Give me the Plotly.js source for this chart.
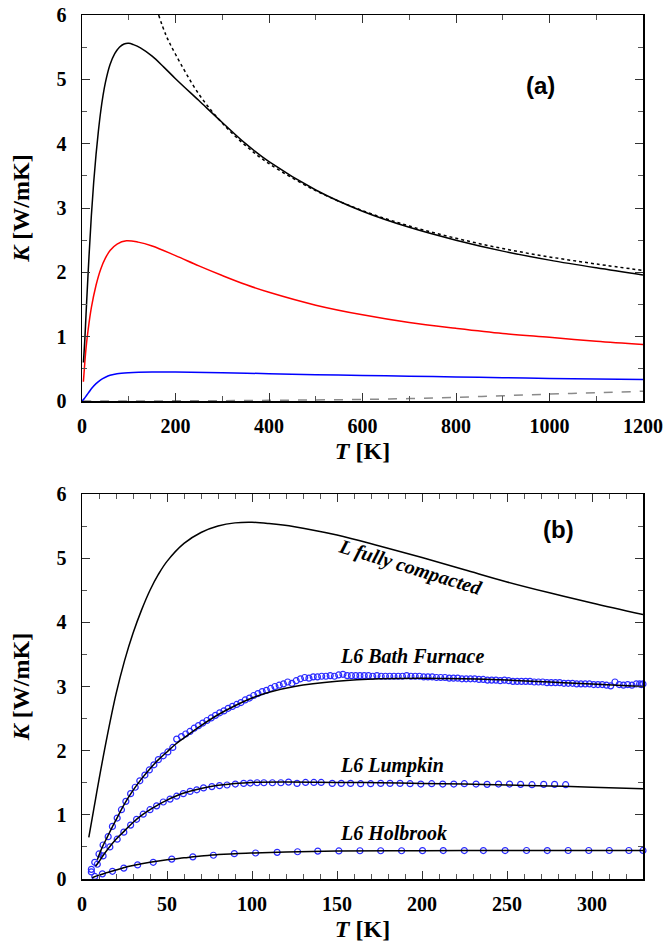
<!DOCTYPE html>
<html><head><meta charset="utf-8">
<script src="https://cdn.plot.ly/plotly-3.0.1.min.js"></script>
<style>html,body{margin:0;padding:0;background:#fff}</style>
</head><body><div id="chart" style="width:670px;height:946px"></div>
<script>
// ---------- Tick labels ----------
const xTicksA = [0,200,400,600,800,1000,1200];
const xTicksB = [0,50,100,150,200,250,300];
const yTicks = [0,1,2,3,4,5,6];

// ---------- Panel (a) ----------
const aBlackT = [3,6,8,10,15,20,25,30,35,40,45,50,60,70,80,90,100,110,125,150,175,200,250,300,350,400,500,600,700,800,900,1000,1100,1200];
const aBlackK = [0.6,0.95,1.25,1.55,2.25,2.88,3.4,3.83,4.19,4.5,4.75,4.95,5.23,5.4,5.5,5.55,5.56,5.54,5.49,5.36,5.19,5.01,4.67,4.33,4.0,3.72,3.28,2.95,2.70,2.50,2.33,2.19,2.07,1.96];
const aDotT = [164,180,200,250,300,350,400,500,600,700,800,900,1000,1100,1200];
const aDotK = [6.0,5.68,5.39,4.77,4.32,3.97,3.69,3.27,2.96,2.72,2.53,2.37,2.24,2.13,2.03];
const aRedT = [3,6,9,13,20,30,40,50,60,75,95,120,150,200,250,300,350,400,500,600,700,800,900,1000,1100,1200];
const aRedK = [0.3,0.6,0.85,1.1,1.45,1.8,2.05,2.22,2.34,2.44,2.49,2.47,2.41,2.26,2.1,1.95,1.81,1.69,1.49,1.34,1.22,1.13,1.05,0.99,0.93,0.88];
const aBlueT = [0,5,10,15,20,30,40,50,60,75,100,150,200,300,400,500,600,700,800,900,1000,1100,1200];
const aBlueK = [0,0.04,0.09,0.14,0.19,0.27,0.33,0.37,0.4,0.425,0.44,0.45,0.45,0.44,0.425,0.41,0.397,0.387,0.375,0.363,0.352,0.343,0.335];
const aGrayT = [0,100,200,300,400,500,600,700,800,900,1000,1100,1200];
const aGrayK = [0,0.001,0.003,0.006,0.011,0.017,0.025,0.038,0.058,0.082,0.108,0.13,0.152];

// ---------- Panel (b) ----------
const bFullT = [4,6,8,10,15,20,25,30,35,40,45,50,60,70,80,90,100,110,125,150,175,200,225,250,275,300,330];
const bFullK = [0.65,0.95,1.25,1.55,2.25,2.88,3.4,3.83,4.19,4.5,4.75,4.95,5.23,5.4,5.5,5.55,5.56,5.54,5.49,5.36,5.19,5.01,4.82,4.63,4.46,4.3,4.12];
const bBathLineT = [9,12,15,18,20,25,30,35,40,45,50,55,60,70,80,90,100,110,125,150,175,200,225,250,275,300,330];
const bBathLineK = [0.3,0.5,0.66,0.82,0.92,1.17,1.38,1.56,1.72,1.86,1.98,2.1,2.2,2.39,2.56,2.7,2.82,2.91,3.0,3.08,3.12,3.13,3.12,3.1,3.07,3.04,3.0];
const bLumpLineT = [8,10,12,15,20,25,30,35,40,45,50,55,60,70,80,90,100,120,150,175,200,225,250,275,300,330];
const bLumpLineK = [0.2,0.27,0.35,0.46,0.62,0.75,0.88,0.99,1.08,1.16,1.23,1.29,1.34,1.41,1.46,1.49,1.505,1.51,1.505,1.5,1.49,1.48,1.465,1.45,1.43,1.405];
const bHolbLineT = [6,10,15,20,25,30,40,50,60,70,80,90,100,120,150,200,250,300,330];
const bHolbLineK = [0.02,0.06,0.1,0.14,0.18,0.21,0.26,0.3,0.33,0.36,0.38,0.395,0.405,0.42,0.435,0.442,0.444,0.445,0.445];

const bathT = [5.5,5.5,7.5,10,12.4,15.4,17.9,20.7,23.2,25.8,28.6,31.3,34,37,39.6,42.3,44.9,47.8,50.5,53.4,55.7,58.5,61,63.5,66,68.5,71,73.5,76,78.5,81,83.5,86,88.5,91,93.5,96,98.5,101,103.5,106,108.5,111,113.5,116,118.5,121,123.5,126,128.5,131,133.5,136,138.5,141,143.5,146,148.5,151,153.5,156,158.5,161,163.5,166,168.5,171,173.5,176,178.5,181,183.5,186,188.5,191,193.5,196,198.5,201,203.5,206,208.5,211,213.5,216,218.5,221,223.5,226,228.5,231,233.5,236,238.5,241,243.5,246,248.5,251,253.5,256,258.5,261,263.5,266,268.5,271,273.5,276,278.5,281,283.5,286,288.5,291,293.5,296,298.5,301,303.5,306,308.5,311,313.5,316,318.5,321,323.5,326,328,329,330];
const bathK = [0.11,0.15,0.26,0.39,0.53,0.66,0.82,0.95,1.08,1.21,1.33,1.43,1.53,1.62,1.70,1.78,1.86,1.92,1.98,2.05,2.18,2.22,2.26,2.30,2.35,2.39,2.43,2.47,2.51,2.55,2.59,2.62,2.66,2.69,2.72,2.75,2.79,2.82,2.86,2.89,2.92,2.94,2.97,3.0,3.02,3.04,3.07,3.05,3.09,3.12,3.14,3.13,3.15,3.15,3.16,3.16,3.17,3.16,3.18,3.19,3.17,3.17,3.17,3.17,3.17,3.17,3.16,3.17,3.16,3.16,3.16,3.16,3.16,3.16,3.17,3.16,3.16,3.16,3.15,3.15,3.15,3.14,3.14,3.14,3.13,3.13,3.13,3.12,3.12,3.12,3.12,3.11,3.11,3.1,3.1,3.1,3.09,3.1,3.09,3.08,3.08,3.08,3.08,3.08,3.07,3.07,3.07,3.06,3.06,3.06,3.06,3.05,3.05,3.05,3.04,3.04,3.04,3.04,3.03,3.03,3.03,3.02,3.01,3.07,3.03,3.02,3.03,3.02,3.04,3.04,3.03,3.04];
const lumpT = [9,12.4,16.4,20.7,24.6,28.6,32.1,36,40,43.9,47.8,51.8,55.7,59.6,63.6,67.5,71.5,76.4,80.9,85.3,90.2,95.1,99,103,107,112,117,121.5,126.5,131.5,136.4,140.7,147.2,152.5,158,163.9,169.8,175.7,181.2,187.1,193,199.3,205.7,212.2,218.7,224.9,231.8,238.3,245,251.5,258,264.7,271.6,278,284.5];
const lumpK = [0.23,0.36,0.5,0.62,0.73,0.84,0.93,1.01,1.08,1.14,1.2,1.245,1.29,1.33,1.365,1.39,1.42,1.44,1.455,1.465,1.48,1.49,1.495,1.5,1.5,1.5,1.5,1.51,1.49,1.505,1.505,1.505,1.49,1.49,1.49,1.485,1.485,1.49,1.49,1.49,1.485,1.48,1.485,1.48,1.48,1.485,1.48,1.475,1.48,1.48,1.475,1.47,1.475,1.475,1.47];
const holbT = [7.5,12,17.9,24.6,32.7,41.9,52.8,65.2,77.3,89.6,102.1,114.8,126.8,138.7,151.1,163.5,175.7,188,200.3,212.5,224.9,236.1,248.9,261.5,273.7,286,298.1,310.2,321.7,330];
const holbK = [0.04,0.08,0.12,0.17,0.22,0.26,0.31,0.345,0.37,0.395,0.405,0.415,0.425,0.435,0.437,0.44,0.44,0.44,0.442,0.443,0.443,0.443,0.443,0.444,0.443,0.444,0.444,0.444,0.444,0.445];

const labelsB = ["L fully compacted","L6 Bath Furnace","L6 Lumpkin","L6 Holbrook"];

const SERIF = 'Liberation Serif';
const SANS = 'Liberation Sans';

function line(x,y,color,dash,xa,ya,w){return {x:x,y:y,type:'scatter',mode:'lines',line:{color:color,width:w||1.5,dash:dash||'solid',shape:'spline',smoothing:1},xaxis:xa,yaxis:ya,hoverinfo:'skip'};}
function pts(x,y){return {x:x,y:y,type:'scatter',mode:'markers',marker:{symbol:'circle-open',size:6,color:'#2a2aff',line:{width:1.2,color:'#2a2aff'}},xaxis:'x2',yaxis:'y2',cliponaxis:false};}

const traces = [
  line(aGrayT,aGrayK,'#8a8a8a','dash','x','y',1.5),
  line(aBlueT,aBlueK,'#0000ff','solid','x','y'),
  line(aRedT,aRedK,'#ff0000','solid','x','y'),
  line(aDotT,aDotK,'#000000','dot','x','y'),
  line(aBlackT,aBlackK,'#000000','solid','x','y'),
  pts(bathT,bathK), pts(lumpT,lumpK), pts(holbT,holbK),
  line(bFullT,bFullK,'#000000','solid','x2','y2'),
  line(bBathLineT,bBathLineK,'#000000','solid','x2','y2'),
  line(bLumpLineT,bLumpLineK,'#000000','solid','x2','y2'),
  line(bHolbLineT,bHolbLineK,'#000000','solid','x2','y2')
];

const tickFont = {family:SERIF,size:20,color:'#000'};
const bold = a => a.map(v => '<b>'+v+'</b>');
function xax(range,ticks,minor,anchor){return {
  range:range,tickmode:'array',tickvals:ticks,ticktext:bold(ticks),anchor:anchor,showgrid:false,zeroline:false,
  showline:true,linecolor:'#000',linewidth:1.5,mirror:'allticks',
  ticks:'inside',ticklen:8,tickwidth:1,tickcolor:'#333',
  minor:{dtick:minor,tick0:0,ticks:'inside',ticklen:5,tickwidth:1,tickcolor:'#555',showgrid:false},
  tickfont:tickFont,ticklabelstandoff:6,
  title:{text:'<b><i>T</i> [K]</b>',font:{family:SERIF,size:24,color:'#000'},standoff:6}
};}
function yax(domain,anchor){return {
  range:[0,6],tickmode:'array',tickvals:yTicks,ticktext:bold(yTicks),domain:domain,anchor:anchor,showgrid:false,zeroline:false,
  showline:true,linecolor:'#000',linewidth:1.5,mirror:'allticks',
  ticks:'inside',ticklen:8,tickwidth:1,tickcolor:'#333',
  minor:{dtick:0.5,tick0:0,ticks:'inside',ticklen:5,tickwidth:1,tickcolor:'#555',showgrid:false},
  tickfont:tickFont,ticklabelstandoff:10,
  title:{text:'<b><i>K</i> [W/mK]</b>',font:{family:SERIF,size:24,color:'#000'},standoff:20}
};}

const annFont = {family:SERIF,size:20,color:'#000'};
const layout = {
  width:670,height:946,showlegend:false,
  font:{family:SERIF,color:'#000'},
  paper_bgcolor:'#fff',plot_bgcolor:'#fff',
  margin:{l:82,r:27,t:15,b:67},
  xaxis:xax([0,1200],xTicksA,100,'y'),
  yaxis:yax([0.5532,1],'x'),
  xaxis2:xax([0,330],xTicksB,10,'y2'),
  yaxis2:yax([0,0.4456],'x2'),
  annotations:[
    {xref:'x',yref:'y',x:980,y:4.91,text:'<b>(a)</b>',showarrow:false,font:{family:SANS,size:24,color:'#000'}},
    {xref:'x2',yref:'y2',x:280,y:5.45,text:'<b>(b)</b>',showarrow:false,font:{family:SANS,size:24,color:'#000'}},
    {xref:'x2',yref:'y2',x:193.5,y:4.86,text:'<b><i>'+labelsB[0]+'</i></b>',textangle:17,showarrow:false,font:annFont},
    {xref:'x2',yref:'y2',x:150.4,y:3.47,xanchor:'left',text:'<b><i>'+labelsB[1]+'</i></b>',showarrow:false,font:annFont},
    {xref:'x2',yref:'y2',x:150.4,y:1.77,xanchor:'left',text:'<b><i>'+labelsB[2]+'</i></b>',showarrow:false,font:annFont},
    {xref:'x2',yref:'y2',x:150.4,y:0.72,xanchor:'left',text:'<b><i>'+labelsB[3]+'</i></b>',showarrow:false,font:annFont}
  ]
};
Plotly.newPlot('chart',traces,layout,{displayModeBar:false,staticPlot:true});
</script></body></html>
